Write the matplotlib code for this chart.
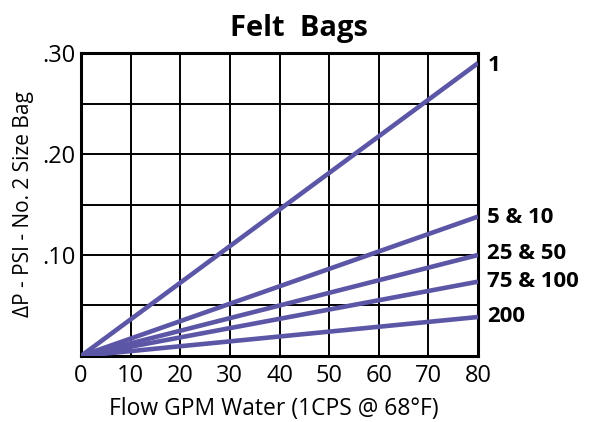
import matplotlib
matplotlib.use('Agg')
import matplotlib.pyplot as plt

# flow (GPM) end points and pressure drop at 80 GPM for each micron rating
flow = [0, 80]
labels = ['1', '5 & 10', '25 & 50', '75 & 100', '200']
dp_at_80 = [0.29, 0.138, 0.100, 0.0736, 0.0386]
label_y = [0.290, 0.140, 0.104, 0.076, 0.0416]

x_ticks = [0, 10, 20, 30, 40, 50, 60, 70, 80]
y_grid = [0.05, 0.10, 0.15, 0.20, 0.25, 0.30]
y_tick_labels = ['', '.10', '', '.20', '', '.30']

plt.rcParams['font.family'] = ['Open Sans', 'DejaVu Sans']

fig = plt.figure(figsize=(5.93, 4.22), dpi=100)
ax = fig.add_axes([0.1366, 0.1564, 0.6695, 0.718])

line_color = '#5c56a6'
for dp in dp_at_80:
    ax.plot(flow, [0, dp], color=line_color, lw=3.3, solid_capstyle='butt', zorder=3)

for lab, y in zip(labels, label_y):
    ax.text(81.9, y, lab, fontsize=16, fontweight='bold', va='center_baseline', ha='left')

ax.set_xlim(0, 80)
ax.set_ylim(0, 0.30)
ax.set_xticks(x_ticks)
ax.set_yticks(y_grid)
ax.set_yticklabels(y_tick_labels)
ax.grid(True, color='black', lw=1.4)
ax.tick_params(length=0, labelsize=17)
ax.tick_params(axis='x', pad=6)
ax.tick_params(axis='y', pad=4)
for s in ax.spines.values():
    s.set_linewidth(2.2)
    s.set_color('black')

ax.set_xlabel('Flow GPM Water (1CPS @ 68°F)', fontsize=16.5, labelpad=2)
ax.xaxis.set_label_coords(0.485, -0.135)
ax.set_ylabel('ΔP - PSI - No. 2 Size Bag', fontsize=15, labelpad=6)
ax.set_title('Felt  Bags', fontsize=21, fontweight='bold', x=0.55, pad=12)

fig.savefig('out.png', dpi=100)
